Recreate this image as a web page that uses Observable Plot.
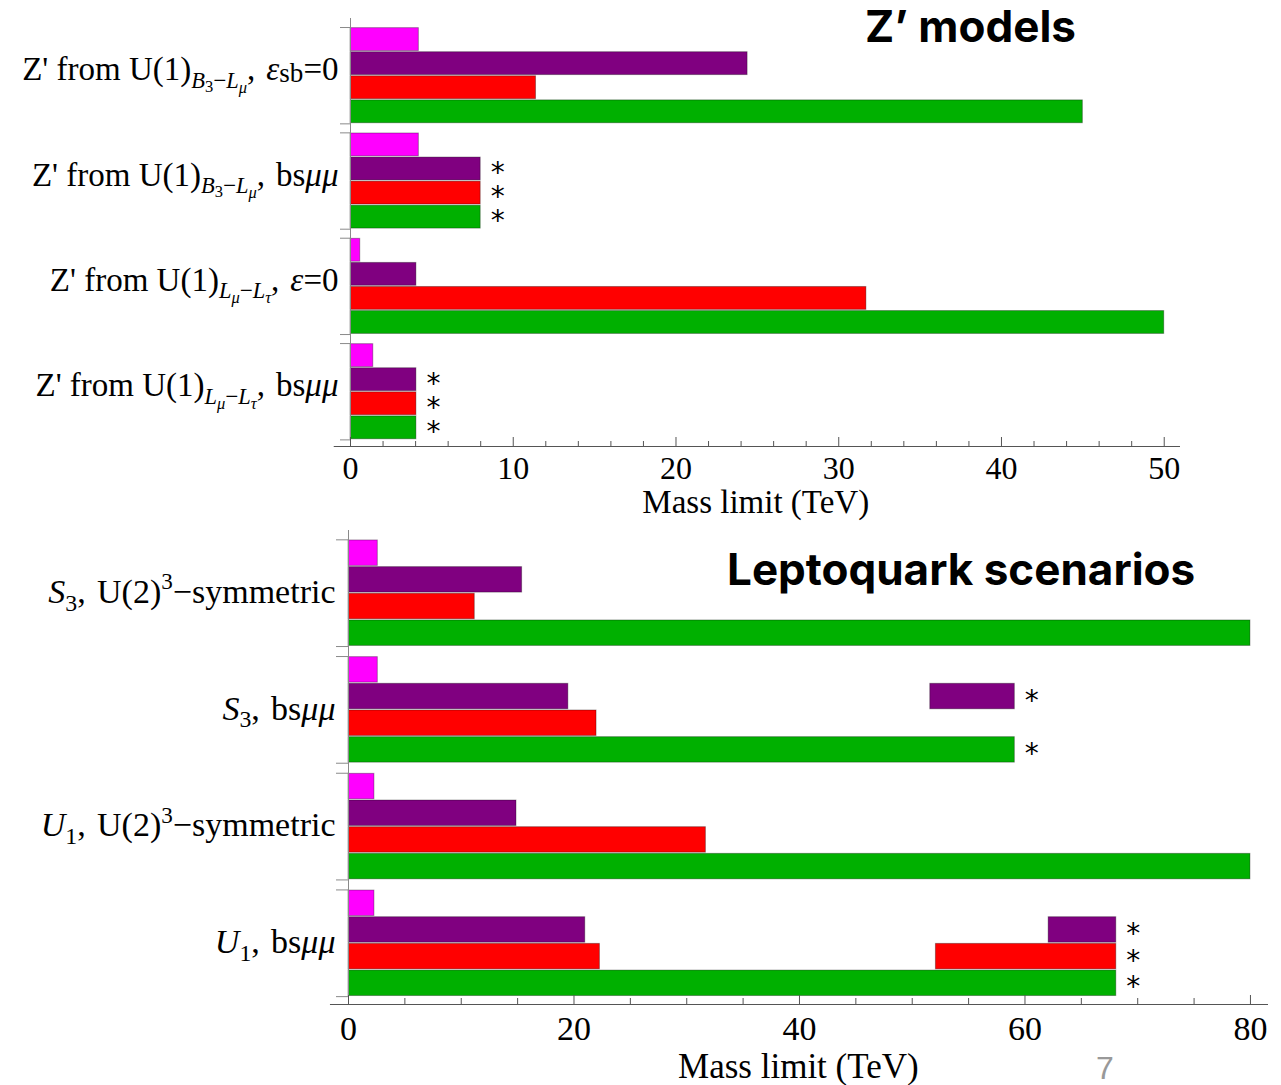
<!DOCTYPE html>
<html>
<head>
<meta charset="utf-8">
<script src="https://cdn.jsdelivr.net/npm/d3@7"></script>
<script src="https://cdn.jsdelivr.net/npm/@observablehq/plot@0.6"></script>
<style>
  body { margin: 0; background: #fff; }
  #wrap { position: relative; width: 1281px; height: 1085px; overflow: hidden; }
  .title { position: absolute; font-family: Inter, "Liberation Sans", sans-serif; font-weight: 700; font-size: 44px; line-height: 1; white-space: nowrap; color: #000; }
  #page { position: absolute; left: 1096px; top: 1052px; font-family: "Liberation Sans", sans-serif; font-size: 32px; line-height: 1; color: #999; }
</style>
</head>
<body>
<div id="wrap">
  <div id="zchart" style="position:absolute;left:0;top:0"></div>
  <div id="lqchart" style="position:absolute;left:0;top:525px"></div>
  <div class="title" style="left:865px;top:4px">Z’ models</div>
  <div class="title" style="left:727px;top:547px">Leptoquark scenarios</div>
  <div id="page">7</div>
</div>
<script>
// ---------- data ----------
const SERIES = ["series1", "series2", "series3", "series4"];
const COLORS = ["#ff00ff", "#800080", "#ff0000", "#00b000"];

// Z' models (mass limit, TeV)
const zGroups = ["Z' U(1) B3-Lmu eps_sb=0", "Z' U(1) B3-Lmu bsmumu", "Z' U(1) Lmu-Ltau eps=0", "Z' U(1) Lmu-Ltau bsmumu"];
const zSeries1 = [4.2, 4.2, 0.6, 1.4];
const zSeries2 = [24.4, 8.0, 4.05, 4.05];
const zSeries3 = [11.4, 8.0, 31.7, 4.05];
const zSeries4 = [45.0, 8.0, 50.0, 4.05];
const zStarGroup  = [1, 1, 1, 3, 3, 3];
const zStarSeries = ["series2", "series3", "series4", "series2", "series3", "series4"];
const zLabelSegments = [
  [["Z' from U(1)", "r"], ["B", "si"], ["3", "ss"], ["−", "s"], ["L", "si"], ["μ", "ssi"], [",\u2004", "r"], ["ε", "i"], ["sb", "t"], ["=0", "r"]],
  [["Z' from U(1)", "r"], ["B", "si"], ["3", "ss"], ["−", "s"], ["L", "si"], ["μ", "ssi"], [",\u2004bs", "r"], ["μμ", "i"]],
  [["Z' from U(1)", "r"], ["L", "si"], ["μ", "ssi"], ["−", "s"], ["L", "si"], ["τ", "ssi"], [",\u2004", "r"], ["ε", "i"], ["=0", "r"]],
  [["Z' from U(1)", "r"], ["L", "si"], ["μ", "ssi"], ["−", "s"], ["L", "si"], ["τ", "ssi"], [",\u2004bs", "r"], ["μμ", "i"]]
];
const zMajorTicks = [0, 10, 20, 30, 40, 50];
const zMinorTicks = [2, 4, 6, 8, 12, 14, 16, 18, 22, 24, 26, 28, 32, 34, 36, 38, 42, 44, 46, 48];

// Leptoquark scenarios (mass limit, TeV)
const lqGroups = ["S3 U(2)^3 symmetric", "S3 bsmumu", "U1 U(2)^3 symmetric", "U1 bsmumu"];
const lqSeries1 = [2.6, 2.6, 2.3, 2.3];
const lqSeries2 = [15.4, 19.5, 14.9, 21.0];
const lqSeries3 = [11.2, 22.0, 31.7, 22.3];
const lqSeries4 = [80.0, 59.1, 80.0, 68.1];
// additional intervals (from – to) drawn in the same row
const lqRangeGroup  = [1, 3, 3];
const lqRangeSeries = ["series2", "series2", "series3"];
const lqRangeFrom   = [51.6, 62.1, 52.1];
const lqRangeTo     = [59.1, 68.1, 68.1];
const lqStarGroup  = [1, 1, 3, 3, 3];
const lqStarSeries = ["series2", "series4", "series2", "series3", "series4"];
const lqLabelSegments = [
  [["S", "i"], ["3", "s"], [",\u2004U(2)", "r"], ["3", "p"], ["−symmetric", "r"]],
  [["S", "i"], ["3", "s"], [",\u2004bs", "r"], ["μμ", "i"]],
  [["U", "i"], ["1", "s"], [",\u2004U(2)", "r"], ["3", "p"], ["−symmetric", "r"]],
  [["U", "i"], ["1", "s"], [",\u2004bs", "r"], ["μμ", "i"]]
];
const lqMajorTicks = [0, 20, 40, 60, 80];
const lqMinorTicks = [5, 10, 15, 25, 30, 35, 45, 50, 55, 65, 70, 75];

const X_LABEL = "Mass limit (TeV)";

// ---------- helpers ----------
const GAP = 0.375;           // gap between groups, in bar units
const PITCH = 4 + GAP;
const SERIF = "'Liberation Serif', 'Times New Roman', serif";

function buildBars(seriesArrays, ranges) {
  const out = [];
  seriesArrays.forEach((arr, k) => arr.forEach((v, g) => out.push({g, k, series: SERIES[k], x1: 0, x2: v})));
  if (ranges) ranges.group.forEach((g, i) => {
    const k = SERIES.indexOf(ranges.series[i]);
    out.push({g, k, series: ranges.series[i], x1: ranges.from[i], x2: ranges.to[i]});
  });
  return out;
}
function buildStars(bars, groups, series) {
  return groups.map((g, i) => {
    const k = SERIES.indexOf(series[i]);
    const end = d3.max(bars.filter(b => b.g === g && b.k === k), b => b.x2);
    return {g, k, x: end};
  });
}

const SEG_STYLE = {
  r:   {scale: 1,    shift: 0,     italic: false},
  i:   {scale: 1,    shift: 0,     italic: true},
  s:   {scale: 0.7,  shift: 0.22,  italic: false},
  si:  {scale: 0.68, shift: 0.22,  italic: true},
  ss:  {scale: 0.5,  shift: 0.36,  italic: false},
  ssi: {scale: 0.5,  shift: 0.38,  italic: true},
  t:   {scale: 0.82, shift: 0.05,  italic: false},
  p:   {scale: 0.68, shift: -0.4,  italic: false}
};
function richify(svg, names, segments, base) {
  d3.select(svg).selectAll("text").each(function () {
    const i = names.indexOf(this.textContent);
    if (i < 0) return;
    const t = d3.select(this);
    t.text(null);
    let prev = 0;
    for (const [txt, kind] of segments[i]) {
      const st = SEG_STYLE[kind];
      const shift = st.shift * base;
      const ts = t.append("tspan").attr("font-size", (st.scale * base) + "px").text(txt);
      if (st.italic) ts.attr("font-style", "italic");
      if (shift !== prev) ts.attr("dy", (shift - prev) + "px");
      prev = shift;
    }
  });
}

function chart(o) {
  const pxX = (o.width - o.marginLeft - o.marginRight) / (o.xDomain[1] - o.xDomain[0]);
  const pxY = (o.height - o.marginTop - o.marginBottom) / (o.yDomain[1] - o.yDomain[0]);
  const yAxis = o.yDomain[1];
  const bounds = o.groups.flatMap((_, g) => [g * PITCH, g * PITCH + 4]);
  const svg = Plot.plot({
    width: o.width, height: o.height,
    marginLeft: o.marginLeft, marginRight: o.marginRight, marginTop: o.marginTop, marginBottom: o.marginBottom,
    x: {domain: o.xDomain, axis: null},
    y: {domain: o.yDomain, reverse: true, axis: null},
    color: {type: "ordinal", domain: SERIES, range: COLORS},
    style: {background: "transparent", overflow: "visible"},
    marks: [
      Plot.rect(o.bars, {
        x1: "x1", x2: "x2",
        y1: d => d.g * PITCH + d.k, y2: d => d.g * PITCH + d.k + 1,
        fill: "series", stroke: "#000", strokeOpacity: 0.32, strokeWidth: 1,
        insetTop: 0.6, insetBottom: 0.6
      }),
      Plot.ruleX([0], {y1: o.yDomain[0], y2: yAxis, stroke: "#8a8a8a", strokeWidth: 1}),
      Plot.ruleY(bounds, {y: d => d, x1: -o.groupTick / pxX, x2: 0, stroke: "#8a8a8a", strokeWidth: 1}),
      Plot.ruleY([yAxis], {x1: o.axisStart, x2: o.xDomain[1], stroke: "#555", strokeWidth: 1.2}),
      Plot.ruleX(o.major, {x: d => d, y1: yAxis, y2: yAxis - o.majorLen / pxY, stroke: "#555"}),
      Plot.ruleX(o.minor, {x: d => d, y1: yAxis, y2: yAxis - o.minorLen / pxY, stroke: "#555"}),
      Plot.text(o.major, {x: d => d, y: yAxis, text: d => String(d), lineAnchor: "top", dy: o.tickDy,
        fontSize: o.tickSize, fontFamily: SERIF, fill: "#000"}),
      Plot.text([X_LABEL], {x: o.labelX, y: yAxis, text: d => d, lineAnchor: "top", dy: o.labelDy,
        fontSize: o.labelSize, fontFamily: SERIF, fill: "#000"}),
      Plot.text(o.groups, {x: 0, y: (d, i) => i * PITCH + 2, text: d => d, textAnchor: "end",
        dx: o.groupDx, dy: o.groupDy, fontSize: o.groupSize, fontFamily: SERIF, fill: "#000"}),
      Plot.text(o.stars, {x: "x", y: d => d.g * PITCH + d.k + 0.5, text: () => "*", textAnchor: "middle",
        dx: 17, dy: o.starDy, fontSize: 28, fontFamily: "'DejaVu Sans', sans-serif", fill: "#000"})
    ]
  });
  richify(svg, o.groups, o.segments, o.groupSize);
  return svg;
}

// ---------- Z' chart ----------
const zBars = buildBars([zSeries1, zSeries2, zSeries3, zSeries4]);
const zStars = buildStars(zBars, zStarGroup, zStarSeries);
document.getElementById("zchart").append(chart({
  width: 1281, height: 525, marginLeft: 350, marginRight: 101, marginTop: 18, marginBottom: 79,
  xDomain: [0, 51], yDomain: [-0.375, 17.4], axisStart: -1,
  bars: zBars, stars: zStars, groups: zGroups, segments: zLabelSegments,
  major: zMajorTicks, minor: zMinorTicks, majorLen: 9, minorLen: 5, groupTick: 10,
  tickDy: 10, tickSize: 32, labelX: 24.9, labelDy: 43, labelSize: 33,
  groupDx: -12, groupDy: -6, groupSize: 33, starDy: 4
}));

// ---------- Leptoquark chart ----------
const lqBars = buildBars([lqSeries1, lqSeries2, lqSeries3, lqSeries4],
  {group: lqRangeGroup, series: lqRangeSeries, from: lqRangeFrom, to: lqRangeTo});
const lqStars = buildStars(lqBars, lqStarGroup, lqStarSeries);
document.getElementById("lqchart").append(chart({
  width: 1281, height: 560, marginLeft: 348, marginRight: 13, marginTop: 5, marginBottom: 81,
  xDomain: [0, 81.6], yDomain: [-0.35, 17.42], axisStart: -1.6,
  bars: lqBars, stars: lqStars, groups: lqGroups, segments: lqLabelSegments,
  major: lqMajorTicks, minor: lqMinorTicks, majorLen: 9, minorLen: 6, groupTick: 12,
  tickDy: 11, tickSize: 34, labelX: 39.9, labelDy: 49, labelSize: 35,
  groupDx: -13, groupDy: -1, groupSize: 34, starDy: 4
}));
</script>
</body>
</html>
